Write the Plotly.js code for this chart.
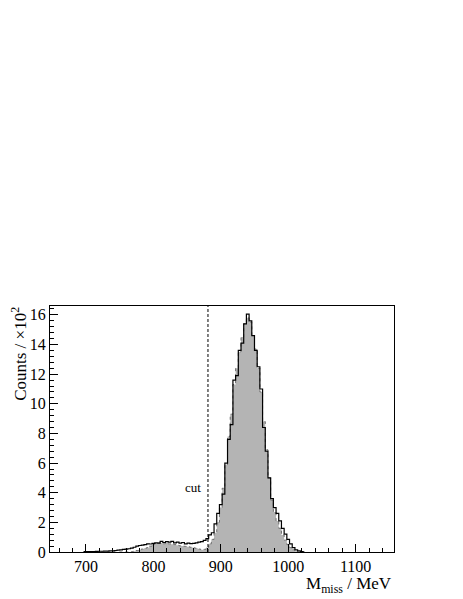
<!DOCTYPE html>
<html>
<head>
<meta charset="utf-8">
<script src="https://cdn.plot.ly/plotly-3.0.1.min.js"></script>
<style>
  html, body { margin: 0; padding: 0; background: #fff; }
  #chart { width: 463px; height: 599px; }
</style>
</head>
<body>
<div id="chart"></div>
<script>
// histogram binning: 4 MeV bins, centres from 700 to 1020 MeV
const FIRST_CENTRE = 700;
const BIN_WIDTH = 4;

// measured counts (x100) per bin
const dataCounts = [
  0.02, 0.02, 0.03, 0.03, 0.04, 0.05, 0.05, 0.06, 0.06, 0.07, 0.08, 0.10, 0.12,
  0.15, 0.18, 0.20, 0.22, 0.26, 0.32, 0.40, 0.44, 0.46, 0.50, 0.55, 0.54,
  0.58, 0.62, 0.60, 0.72, 0.64, 0.70, 0.66, 0.72, 0.62, 0.66, 0.60, 0.64, 0.55,
  0.60, 0.56, 0.58, 0.62, 0.66, 0.70, 0.78, 0.90, 1.15, 1.30, 1.90, 2.60,
  3.20, 3.90, 6.00, 7.60, 8.60, 11.6, 11.9, 13.6, 14.1, 15.4, 16.05, 15.6, 14.6,
  13.6, 12.5, 11.0, 8.40, 6.80, 5.00, 3.60, 3.00, 2.60, 2.10, 1.60, 1.20,
  0.85, 0.55, 0.30, 0.15, 0.08, 0.02
];

// simulated counts (x100) per bin
const simCounts = [
  0, 0, 0, 0, 0, 0, 0, 0, 0, 0, 0, 0, 0, 0, 0, 0, 0,
  0.02, 0.05, 0.10, 0.15, 0.20, 0.25, 0.30, 0.40,
  0.50, 0.58, 0.62, 0.60, 0.56, 0.60, 0.55, 0.52, 0.50, 0.46, 0.42, 0.40, 0.38,
  0.35, 0.32, 0.28, 0.25, 0.20, 0.16, 0.18, 0.30, 0.55, 0.85, 1.30, 2.00,
  3.00, 4.30, 5.90, 7.80, 9.30, 11.3, 12.4, 13.5, 14.5, 15.4, 15.8, 15.5, 14.6,
  13.7, 12.4, 10.8, 8.80, 6.90, 5.00, 3.50, 2.70, 2.10, 1.60, 1.15, 0.80,
  0.50, 0.30, 0.15, 0.05, 0, 0
];

const CUT = 881;

const centres = dataCounts.map((_, i) => FIRST_CENTRE + i * BIN_WIDTH);
// pad with an empty bin at each end so the steps close on the axis
const xs = [centres[0] - BIN_WIDTH, ...centres, centres[centres.length - 1] + BIN_WIDTH];
const pad = arr => [0, ...arr, 0];

const FONT = 'Liberation Serif, Times New Roman, serif';

const traces = [
  {
    type: 'scatter', mode: 'lines',
    x: xs, y: pad(simCounts),
    line: { shape: 'hvh', color: '#6e6e6e', width: 1, dash: 'dot' },
    fill: 'tozeroy', fillcolor: '#b4b4b4',
    hoverinfo: 'skip',
  },
  {
    type: 'scatter', mode: 'lines',
    x: xs, y: pad(dataCounts),
    line: { shape: 'hvh', color: '#000', width: 1.2 },
    hoverinfo: 'skip',
  },
];

const layout = {
  width: 463, height: 599,
  margin: { l: 50, r: 69, t: 306, b: 47 },
  paper_bgcolor: '#fff', plot_bgcolor: '#fff',
  showlegend: false,
  font: { family: FONT, color: '#000', size: 16 },
  xaxis: {
    range: [646.6, 1157],
    dtick: 100, tick0: 700,
    ticks: 'inside', ticklen: 8, tickcolor: '#000', tickwidth: 1,
    minor: { dtick: 20, ticks: 'inside', ticklen: 4, tickcolor: '#000' },
    showline: true, linecolor: '#000', linewidth: 1, mirror: true,
    showgrid: false, zeroline: false,
    tickfont: { family: FONT, size: 16, color: '#000' },
  },
  yaxis: {
    range: [0, 16.6],
    dtick: 2, tick0: 0,
    ticks: 'inside', ticklen: 8, tickcolor: '#000', tickwidth: 1,
    minor: { dtick: 0.4, ticks: 'inside', ticklen: 4, tickcolor: '#000' },
    showline: true, linecolor: '#000', linewidth: 1, mirror: true,
    showgrid: false, zeroline: false,
    tickfont: { family: FONT, size: 16, color: '#000' },
  },
  shapes: [{
    type: 'line', x0: CUT, x1: CUT, y0: 0, y1: 1, yref: 'paper',
    line: { color: '#000', width: 1, dash: '3px,2px' },
  }],
  annotations: [
    {
      text: 'cut', x: CUT - 7, y: 4.35, xanchor: 'right', yanchor: 'middle',
      showarrow: false, font: { family: FONT, size: 13, color: '#000' },
    },
    {
      text: 'M<sub>miss</sub> / MeV', xref: 'paper', yref: 'paper',
      x: 1, y: -0.136, xanchor: 'right', yanchor: 'middle',
      showarrow: false, font: { family: FONT, size: 17, color: '#000' },
    },
    {
      text: 'Counts / ×10<sup>2</sup>', xref: 'paper', yref: 'paper',
      x: -0.09, y: 1.005, xanchor: 'center', yanchor: 'top', textangle: -90,
      showarrow: false, font: { family: FONT, size: 17, color: '#000' },
    },
  ],
};

Plotly.newPlot('chart', traces, layout, { displayModeBar: false, staticPlot: true });
</script>
</body>
</html>
